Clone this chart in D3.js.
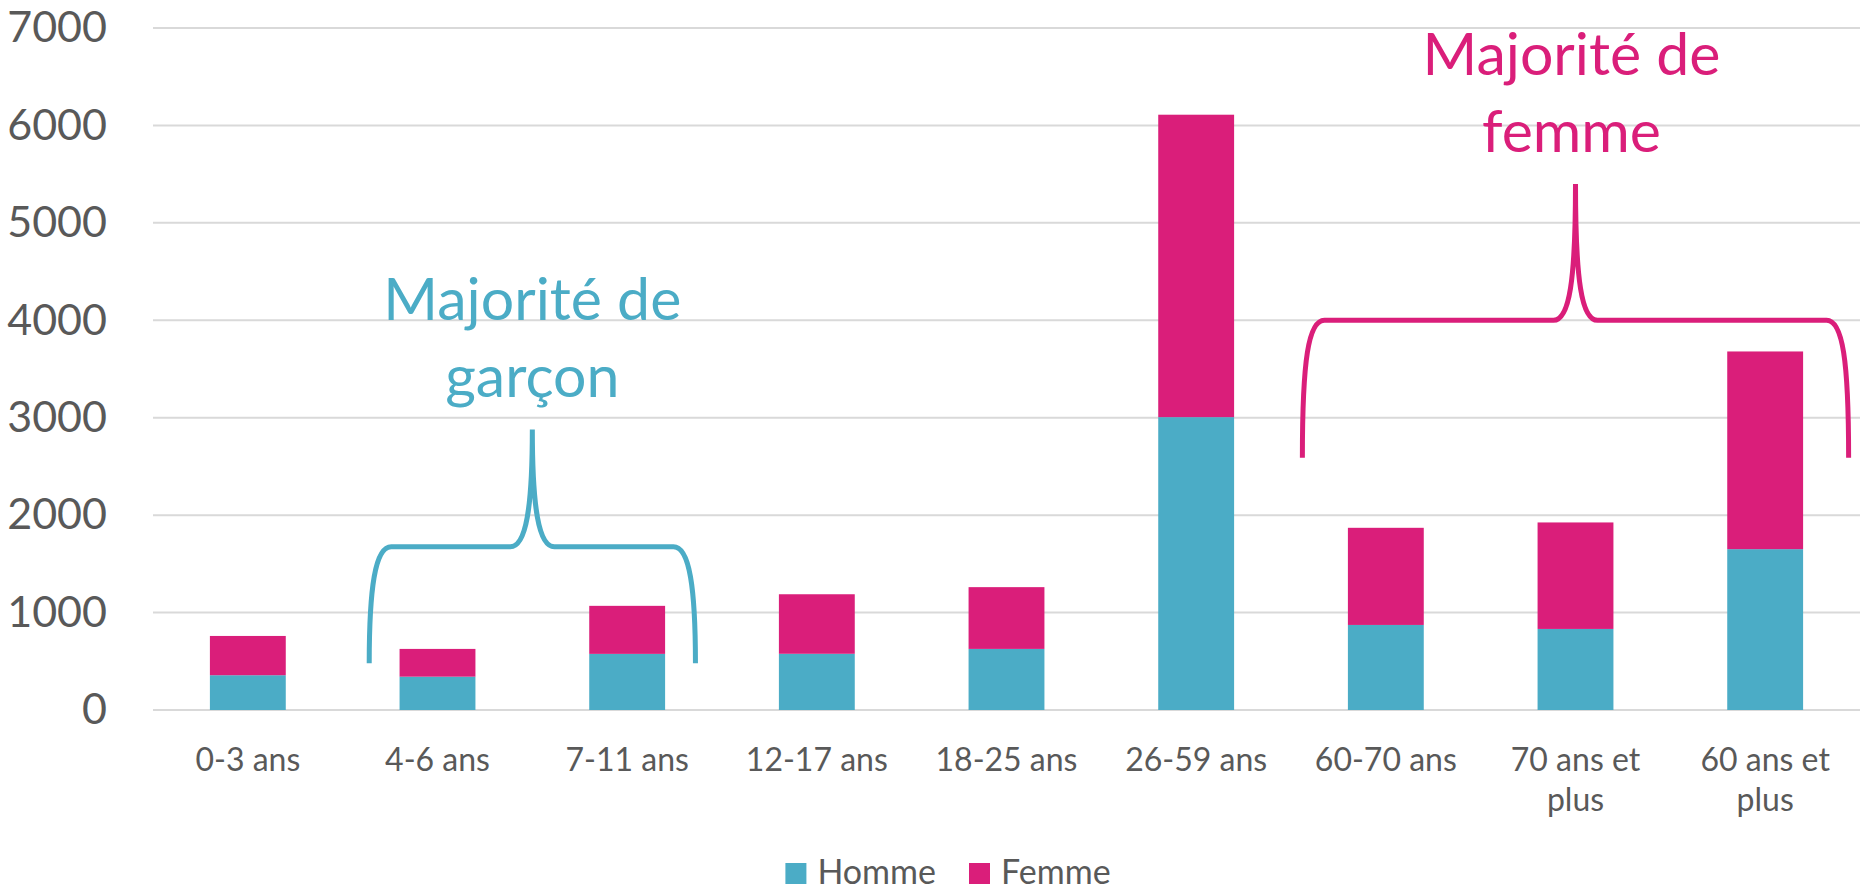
<!DOCTYPE html>
<html>
<head>
<meta charset="utf-8">
<script src="https://cdn.jsdelivr.net/npm/d3@7"></script>
<style>
  body { margin: 0; background: #fff; }
  text { font-family: Lato, 'Open Sans', sans-serif; }
</style>
</head>
<body>
<div id="chart"></div>
<script>
const categories = ['0-3 ans', '4-6 ans', '7-11 ans', '12-17 ans', '18-25 ans', '26-59 ans', '60-70 ans', '70 ans et plus', '60 ans et plus'];
const homme = [357, 342, 576, 577, 627, 3006, 873, 832, 1651];
const femme = [403, 285, 493, 611, 634, 3104, 997, 1093, 2029];
const seriesNames = ['Homme', 'Femme'];
const yTicks = [0, 1000, 2000, 3000, 4000, 5000, 6000, 7000];

// braces: first / last category covered, and the values for foot, bar and tip
const braceLabels = [['Majorité de', 'garçon'], ['Majorité de', 'femme']];
const braceFrom = ['4-6 ans', '60-70 ans'];
const braceTo = ['7-11 ans', '60 ans et plus'];
const braceFoot = [480, 2590];
const braceLevel = [1675, 4000];
const braceTip = [2880, 5400];

const width = 1864;
const height = 893;
const margin = { top: 28, right: 4, bottom: 183, left: 153 };
const colors = ['#4bacc6', '#da1e7a'];
const textColor = '#595959';
const braceReach = [0.36, 0.44];

const svg = d3.select('#chart')
    .append('svg')
    .attr('width', width)
    .attr('height', height);

const x = d3.scaleBand()
    .domain(categories)
    .range([margin.left, width - margin.right])
    .paddingInner(0.6)
    .paddingOuter(0.3);

const y = d3.scaleLinear()
    .domain([0, 7000])
    .range([height - margin.bottom, margin.top]);

// grid + y labels
const yAxis = svg.append('g')
    .attr('transform', `translate(${margin.left},0)`)
    .call(d3.axisLeft(y).tickValues(yTicks).tickSize(0).tickPadding(46).tickFormat(d3.format('d')));
yAxis.select('.domain').remove();
yAxis.selectAll('text')
    .attr('font-size', '43px')
    .attr('fill', textColor)
    .attr('font-family', 'Lato, sans-serif');

svg.append('g')
    .selectAll('line')
    .data(yTicks)
    .join('line')
    .attr('x1', margin.left)
    .attr('x2', width - margin.right)
    .attr('y1', d => y(d))
    .attr('y2', d => y(d))
    .attr('stroke', '#d9d9d9')
    .attr('stroke-width', 2);

// stacked bars
const rows = categories.map((c, i) => ({ cat: c, Homme: homme[i], Femme: femme[i] }));
const stacked = d3.stack().keys(seriesNames)(rows);

svg.append('g')
    .selectAll('g')
    .data(stacked)
    .join('g')
    .attr('fill', (d, i) => colors[i])
    .selectAll('rect')
    .data(d => d)
    .join('rect')
    .attr('x', d => x(d.data.cat))
    .attr('y', d => y(d[1]))
    .attr('width', x.bandwidth())
    .attr('height', d => y(d[0]) - y(d[1]));

// x labels (wrap long ones)
const xAxis = svg.append('g')
    .attr('transform', `translate(0,${y(0)})`)
    .call(d3.axisBottom(x).tickSize(0).tickPadding(0));
xAxis.select('.domain').remove();
xAxis.selectAll('text').remove();
xAxis.selectAll('.tick').each(function (d) {
    const words = d.split(' ');
    const lines = words.length > 3 ? [words.slice(0, 3).join(' '), words.slice(3).join(' ')] : [d];
    const t = d3.select(this).append('text')
        .attr('text-anchor', 'middle')
        .attr('font-size', '32px')
        .attr('fill', textColor);
    lines.forEach((l, k) => {
        t.append('tspan').attr('x', 0).attr('y', 61 + k * 40).text(l);
    });
});

// braces + labels
braceLabels.forEach((lab, i) => {
    const xl = x(braceFrom[i]) + x.bandwidth() / 2 - braceReach[i] * x.step();
    const xr = x(braceTo[i]) + x.bandwidth() / 2 + braceReach[i] * x.step();
    const xm = (xl + xr) / 2;
    const yb = y(braceFoot[i]);
    const yh = y(braceLevel[i]);
    const yt = y(braceTip[i]);
    const dx = 22;
    const p = d3.path();
    p.moveTo(xl, yb);
    p.bezierCurveTo(xl, yh + 40, xl + 6, yh, xl + dx, yh);
    p.lineTo(xm - dx, yh);
    p.bezierCurveTo(xm - 6, yh, xm, yh - 40, xm, yt);
    p.bezierCurveTo(xm, yh - 40, xm + 6, yh, xm + dx, yh);
    p.lineTo(xr - dx, yh);
    p.bezierCurveTo(xr - 6, yh, xr, yh + 40, xr, yb);
    svg.append('path')
        .attr('d', p.toString())
        .attr('fill', 'none')
        .attr('stroke', colors[i])
        .attr('stroke-width', 5);

    const t = svg.append('text')
        .attr('text-anchor', 'middle')
        .attr('font-size', '59px')
        .attr('fill', colors[i]);
    lab.forEach((l, k) => {
        t.append('tspan')
            .attr('x', xm - 4 * i)
            .attr('y', yt - 32 - (lab.length - 1 - k) * 77)
            .text(l);
    });
});

// legend
const legend = svg.append('g');
let lx = 0;
seriesNames.forEach((s, i) => {
    const g = legend.append('g').attr('transform', `translate(${lx},0)`);
    g.append('rect').attr('x', 0).attr('y', -21).attr('width', 21).attr('height', 21).attr('fill', colors[i]);
    const t = g.append('text').attr('x', 32).attr('y', 0).attr('font-size', '34px').attr('fill', textColor).text(s);
    lx += 32 + t.node().getComputedTextLength() + 33;
});
const legW = lx - 33;
legend.attr('transform', `translate(${948 - legW / 2},884)`);
</script>
</body>
</html>
